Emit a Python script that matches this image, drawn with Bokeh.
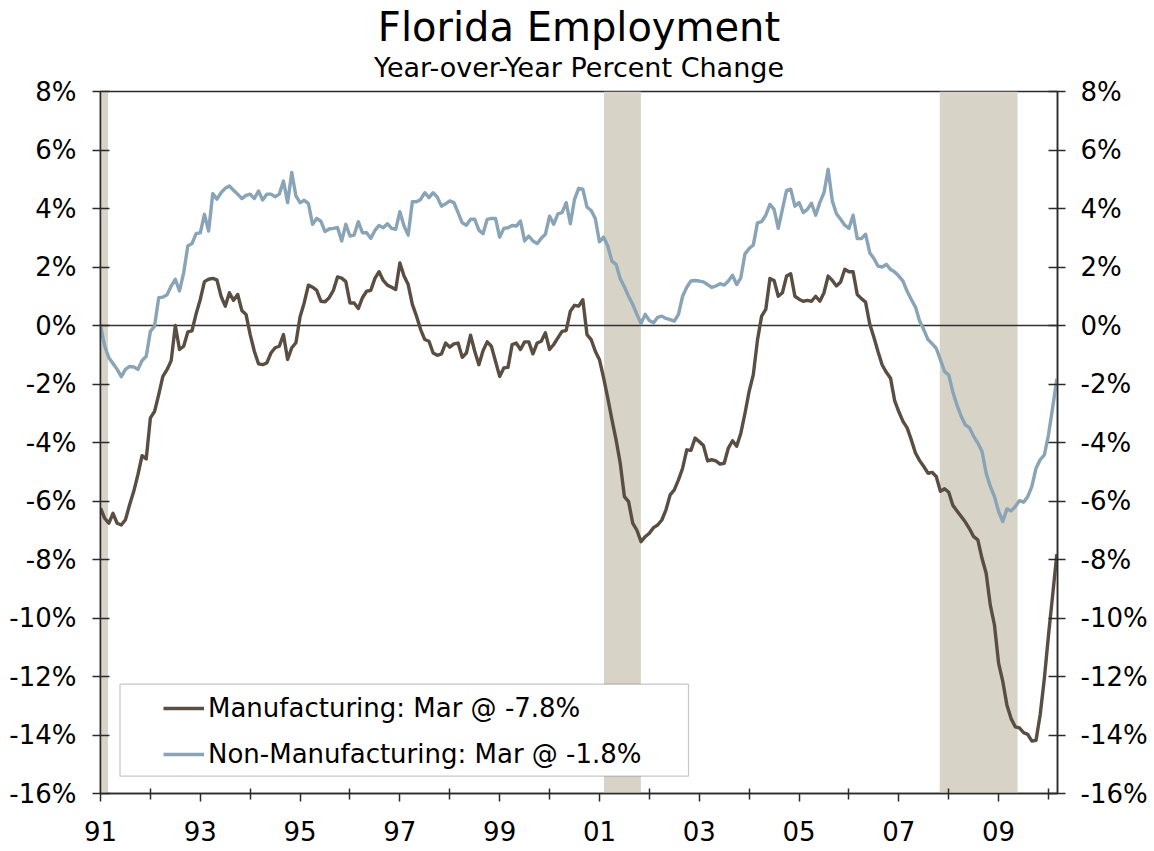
import pandas as pd
from bokeh.plotting import figure
from bokeh.models import (Range1d, LinearAxis, FixedTicker, PrintfTickFormatter,
                          BoxAnnotation, Span, Legend, LegendItem, Title)
from bokeh.embed import file_html
from bokeh.resources import INLINE

# ---------------- data ----------------
start_month = "1991-01-01"   # monthly series, Jan 1991 .. Mar 2010

manufacturing = [
    -6.24, -6.59, -6.76, -6.42, -6.76, -6.82, -6.64, -6.13, -5.67, -5.10, -4.45, -4.56,   # 1991
    -3.16, -2.94, -2.36, -1.74, -1.51, -1.20, 0.00, -0.82, -0.71, -0.22, -0.18, 0.40,     # 1992
    0.89, 1.50, 1.58, 1.61, 1.56, 1.00, 0.66, 1.12, 0.86, 1.06, 0.51, 0.38,               # 1993
    -0.31, -0.88, -1.31, -1.34, -1.28, -0.94, -0.76, -0.71, -0.31, -1.16, -0.76, -0.59,   # 1994
    0.30, 0.78, 1.38, 1.31, 1.20, 0.83, 0.81, 0.95, 1.20, 1.66, 1.62, 1.50,               # 1995
    0.77, 0.77, 0.58, 0.95, 1.17, 1.20, 1.61, 1.84, 1.54, 1.38, 1.31, 1.23,               # 1996
    2.14, 1.69, 1.40, 0.72, 0.32, -0.14, -0.48, -0.54, -0.94, -1.02, -0.97, -0.60,        # 1997
    -0.74, -0.63, -0.60, -1.09, -0.94, -0.33, -0.88, -1.34, -0.86, -0.56, -0.71, -1.22,   # 1998
    -1.74, -1.45, -1.43, -0.65, -0.60, -0.82, -0.56, -0.56, -0.97, -0.60, -0.54, -0.25,   # 1999
    -0.82, -0.65, -0.42, -0.20, -0.17, 0.49, 0.69, 0.66, 0.88, -0.31, -0.48, -0.88,       # 2000
    -1.17, -1.79, -2.48, -3.22, -3.91, -4.71, -5.85, -6.02, -6.76, -7.00, -7.39, -7.22,   # 2001
    -7.10, -6.91, -6.82, -6.65, -6.30, -5.79, -5.62, -5.28, -4.88, -4.25, -4.27, -3.85,   # 2002
    -3.97, -4.10, -4.63, -4.59, -4.63, -4.74, -4.71, -4.19, -3.94, -4.13, -3.68, -3.00,   # 2003
    -2.25, -1.68, -0.50, 0.32, 0.55, 1.61, 1.54, 1.00, 1.12, 1.69, 1.77, 1.00,            # 2004
    0.90, 0.83, 0.86, 0.83, 1.00, 0.83, 1.12, 1.69, 1.54, 1.35, 1.49, 1.92,               # 2005
    1.84, 1.84, 1.06, 0.92, 0.80, 0.05, -0.40, -0.90, -1.35, -1.60, -1.80, -2.57,         # 2006
    -2.95, -3.28, -3.50, -3.91, -4.36, -4.62, -4.82, -5.05, -5.02, -5.16, -5.67, -5.58,   # 2007
    -5.70, -6.15, -6.34, -6.53, -6.72, -6.95, -7.22, -7.33, -7.96, -8.47, -9.56, -10.24,  # 2008
    -11.55, -12.17, -12.98, -13.44, -13.72, -13.76, -13.92, -13.98, -14.21, -14.18, -13.30, -12.07,  # 2009
    -10.58, -9.21, -7.82,                                                                 # 2010
]

non_manufacturing = [
    0.00, -0.70, -1.10, -1.30, -1.50, -1.75, -1.50, -1.40, -1.42, -1.50, -1.20, -1.05,    # 1991
    -0.20, -0.02, 0.95, 0.97, 1.05, 1.35, 1.58, 1.18, 1.80, 2.72, 2.80, 3.14,             # 1992
    3.17, 3.80, 3.23, 4.51, 4.32, 4.54, 4.69, 4.77, 4.62, 4.49, 4.34, 4.45,               # 1993
    4.49, 4.34, 4.60, 4.29, 4.49, 4.49, 4.40, 4.49, 4.94, 4.20, 5.23, 4.43,               # 1994
    4.20, 4.28, 4.17, 3.46, 3.66, 3.57, 3.21, 3.30, 3.32, 3.35, 2.89, 3.46,               # 1995
    3.06, 3.09, 3.55, 3.17, 3.17, 2.98, 3.25, 3.42, 3.34, 3.48, 3.32, 3.29,               # 1996
    3.89, 3.40, 3.09, 4.23, 4.23, 4.31, 4.54, 4.37, 4.54, 4.39, 4.08, 4.16,               # 1997
    4.26, 4.20, 3.86, 3.51, 3.43, 3.63, 3.63, 3.26, 3.14, 3.63, 3.66, 3.66,               # 1998
    3.02, 3.32, 3.34, 3.42, 3.40, 3.57, 2.89, 3.06, 2.89, 2.80, 2.98, 3.12,               # 1999
    3.74, 3.46, 3.82, 3.86, 4.20, 3.48, 4.31, 4.69, 4.66, 4.05, 3.93, 3.66,               # 2000
    2.86, 3.02, 2.72, 2.20, 2.09, 1.60, 1.32, 1.00, 0.72, 0.38, 0.07, 0.38,               # 2001
    0.17, 0.09, 0.28, 0.32, 0.24, 0.20, 0.15, 0.38, 1.00, 1.31, 1.52, 1.54,               # 2002
    1.52, 1.49, 1.40, 1.30, 1.35, 1.43, 1.38, 1.52, 1.72, 1.40, 1.63, 2.45,               # 2003
    2.63, 2.75, 3.51, 3.55, 3.77, 4.14, 3.97, 3.32, 3.97, 4.62, 4.66, 4.08,               # 2004
    4.20, 3.86, 3.97, 4.18, 3.77, 4.20, 4.54, 5.34, 4.26, 3.82, 3.63, 3.43,               # 2005
    3.32, 3.77, 2.97, 2.97, 3.12, 2.49, 2.29, 2.03, 2.00, 2.09, 1.92, 1.83,               # 2006
    1.69, 1.52, 1.17, 0.89, 0.63, 0.15, -0.14, -0.48, -0.62, -0.78, -1.17, -1.57,         # 2007
    -1.69, -2.28, -2.73, -3.10, -3.40, -3.50, -3.79, -4.02, -4.30, -5.05, -5.50, -5.85,   # 2008
    -6.36, -6.70, -6.27, -6.34, -6.19, -5.99, -6.04, -5.85, -5.50, -4.88, -4.59, -4.42,   # 2009
    -3.73, -2.80, -1.82,                                                                  # 2010
]

# recessions (decimal years)
rec_start = [1990.50, 2001.09, 2007.82]
rec_end = [1991.15, 2001.83, 2009.38]

year_ticks = list(range(1991, 2010, 2))
minor_years = list(range(1992, 2011, 2))
year_labels = ["91", "93", "95", "97", "99", "01", "03", "05", "07", "09"]
y_ticks = list(range(-16, 9, 2))

title_text = "Florida Employment"
subtitle_text = "Year-over-Year Percent Change"
legend_labels = ["Manufacturing: Mar @ -7.8%", "Non-Manufacturing: Mar @ -1.8%"]

# ---------------- figure ----------------
dates = pd.date_range(start_month, periods=len(manufacturing), freq="MS")
xs = (dates.year + (dates.month - 1) / 12.0).tolist()

FONT = "DejaVu Sans"
BROWN = "#5a4d42"
BLUE = "#88a4b6"
SHADE = "#d7d3c7"
AXIS = "#2a2a2a"

W, H = 1154, 851
ML, MR, MT, MB = 100, 97, 91, 58

p = figure(width=W, height=H,
           x_range=Range1d(1991.0, 2010.18), y_range=Range1d(-16, 8),
           output_backend="svg", toolbar_location=None,
           min_border_left=ML, min_border_right=MR,
           min_border_top=MT, min_border_bottom=MB)
p.background_fill_color = "white"
p.border_fill_color = "white"
p.outline_line_color = AXIS
p.outline_line_width = 1.5
p.xgrid.visible = False
p.ygrid.visible = False

# titles: stacked panels above the frame (spacer, subtitle, title)
p.add_layout(Title(text=" ", text_font=FONT, text_font_size="6px", standoff=0), "above")
p.add_layout(Title(text=subtitle_text, align="center", text_font=FONT,
                   text_font_size="27px", text_font_style="normal",
                   text_color="black", standoff=0), "above")
p.add_layout(Title(text=title_text, align="center", text_font=FONT,
                   text_font_size="40px", text_font_style="normal",
                   text_color="black", standoff=0), "above")

# recession shading
for s, e in zip(rec_start, rec_end):
    p.add_layout(BoxAnnotation(left=s, right=e, fill_color=SHADE, fill_alpha=1.0,
                               line_alpha=0, level="underlay"))

# zero line
p.add_layout(Span(location=0, dimension="width", line_color="#333333",
                  line_width=1.5, level="underlay"))

r_non = p.line(xs, non_manufacturing, line_color=BLUE, line_width=3.4, line_join="round")
r_man = p.line(xs, manufacturing, line_color=BROWN, line_width=3.4, line_join="round")

# x axis
xa = p.xaxis[0]
xa.ticker = FixedTicker(ticks=year_ticks, minor_ticks=minor_years)
xa.major_label_overrides = {t: l for t, l in zip(year_ticks, year_labels)}
xa.major_tick_out = 8
xa.major_tick_in = 0
xa.minor_tick_out = 6
xa.minor_tick_in = 5
xa.major_label_standoff = 19
xa.major_label_text_font = FONT
xa.major_label_text_font_size = "26px"
xa.major_label_text_color = "black"
xa.axis_line_color = AXIS
xa.axis_line_width = 1.5
xa.major_tick_line_color = AXIS
xa.major_tick_line_width = 1.5
xa.minor_tick_line_color = AXIS
xa.minor_tick_line_width = 1.5

# y axes
def style_y(ax, standoff):
    ax.ticker = FixedTicker(ticks=y_ticks, minor_ticks=[])
    ax.formatter = PrintfTickFormatter(format="%d%%")
    ax.major_tick_in = 9
    ax.major_tick_out = 8
    ax.minor_tick_in = 0
    ax.minor_tick_out = 0
    ax.major_label_standoff = standoff
    ax.major_label_text_font = FONT
    ax.major_label_text_font_size = "26px"
    ax.major_label_text_color = "black"
    ax.axis_line_color = AXIS
    ax.axis_line_width = 1.5
    ax.major_tick_line_color = AXIS
    ax.major_tick_line_width = 1.5

style_y(p.yaxis[0], 16)
ry = LinearAxis()
style_y(ry, 15)
p.add_layout(ry, "right")

# legend: frame box + items
p.add_layout(BoxAnnotation(left=19.5, right=588, bottom=17.3, top=109.3,
                           left_units="screen", right_units="screen",
                           bottom_units="screen", top_units="screen",
                           fill_color="white", fill_alpha=1.0,
                           line_color="#444444", line_width=1.2, level="annotation"))
legend = Legend(items=[LegendItem(label=legend_labels[0], renderers=[r_man]),
                       LegendItem(label=legend_labels[1], renderers=[r_non])],
                location=(63, 24), padding=0, margin=0, spacing=16,
                glyph_width=41, glyph_height=20, label_standoff=4,
                label_text_font=FONT, label_text_font_size="26px",
                label_text_color="black",
                border_line_alpha=0, background_fill_alpha=0)
p.add_layout(legend)

open("out.html", "w").write(file_html(p, INLINE))
